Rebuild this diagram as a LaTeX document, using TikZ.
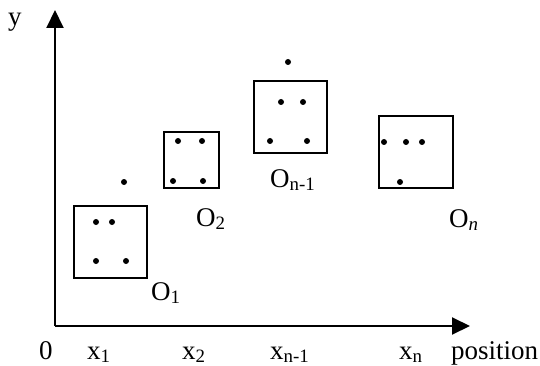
\documentclass[tikz,border=0pt]{standalone}
\usepackage{fontspec}
\setmainfont{Liberation Serif}
\usetikzlibrary{arrows.meta}
\begin{document}
\begin{tikzpicture}[x=1pt,y=-1pt,
  axis/.style={line width=2pt,-{Triangle[length=18pt,width=17pt]}},
  objbox/.style={draw,line width=1.8pt,inner sep=0pt,anchor=north west},
  pt/.style={circle,fill,inner sep=0pt,minimum size=6pt},
  lbl/.style={inner sep=0pt,anchor=base west,font=\fontsize{27}{32}\selectfont}]
\useasboundingbox (0,0) rectangle (540,366);
% axes
\coordinate (orig) at (55,326);
\coordinate (ytip) at (55,10);
\coordinate (xtip) at (470,326);
\draw[axis] (orig) -- (ytip);
\draw[axis] (orig) -- (xtip);
% axis labels
\node[lbl] (ylab) at (8,26) {y};
\node[lbl] (zero) at (39,359) {0};
\node[lbl] (x1) at (87,359) {x\textsubscript{1}};
\node[lbl] (x2) at (182,359) {x\textsubscript{2}};
\node[lbl] (xn1) at (270,359) {x\textsubscript{n-1}};
\node[lbl] (xn) at (399,359) {x\textsubscript{n}};
\node[lbl] (pos) at (451,359) {position};
% boxes
\node[objbox,minimum width=73pt,minimum height=72pt] (b1) at (73,205) {};
\node[objbox,minimum width=55pt,minimum height=56pt] (b2) at (163,131) {};
\node[objbox,minimum width=73pt,minimum height=72pt] (b3) at (253,80) {};
\node[objbox,minimum width=74pt,minimum height=72pt] (b4) at (378,115) {};
% dots O1
\node[pt] (p11) at (96,222) {};
\node[pt] (p12) at (112,222) {};
\node[pt] (p13) at (96,261) {};
\node[pt] (p14) at (126,261) {};
\node[pt] (p15) at (124,182) {};
% dots O2
\node[pt] (p21) at (178,141) {};
\node[pt] (p22) at (202,141) {};
\node[pt] (p23) at (173,181) {};
\node[pt] (p24) at (203,181) {};
% dots On-1
\node[pt] (p31) at (281,102) {};
\node[pt] (p32) at (303,102) {};
\node[pt] (p33) at (270,141) {};
\node[pt] (p34) at (307,141) {};
\node[pt] (p35) at (288,62) {};
% dots On
\node[pt] (p41) at (384,142) {};
\node[pt] (p42) at (406,142) {};
\node[pt] (p43) at (422,142) {};
\node[pt] (p44) at (400,182) {};
% box labels
\node[lbl] (o1) at (151,300) {O\textsubscript{1}};
\node[lbl] (o2) at (196,226) {O\textsubscript{2}};
\node[lbl] (o3) at (270,187) {O\textsubscript{n-1}};
\node[lbl] (o4) at (449,227) {O\textsubscript{\textit{n}}};
\end{tikzpicture}
\end{document}
